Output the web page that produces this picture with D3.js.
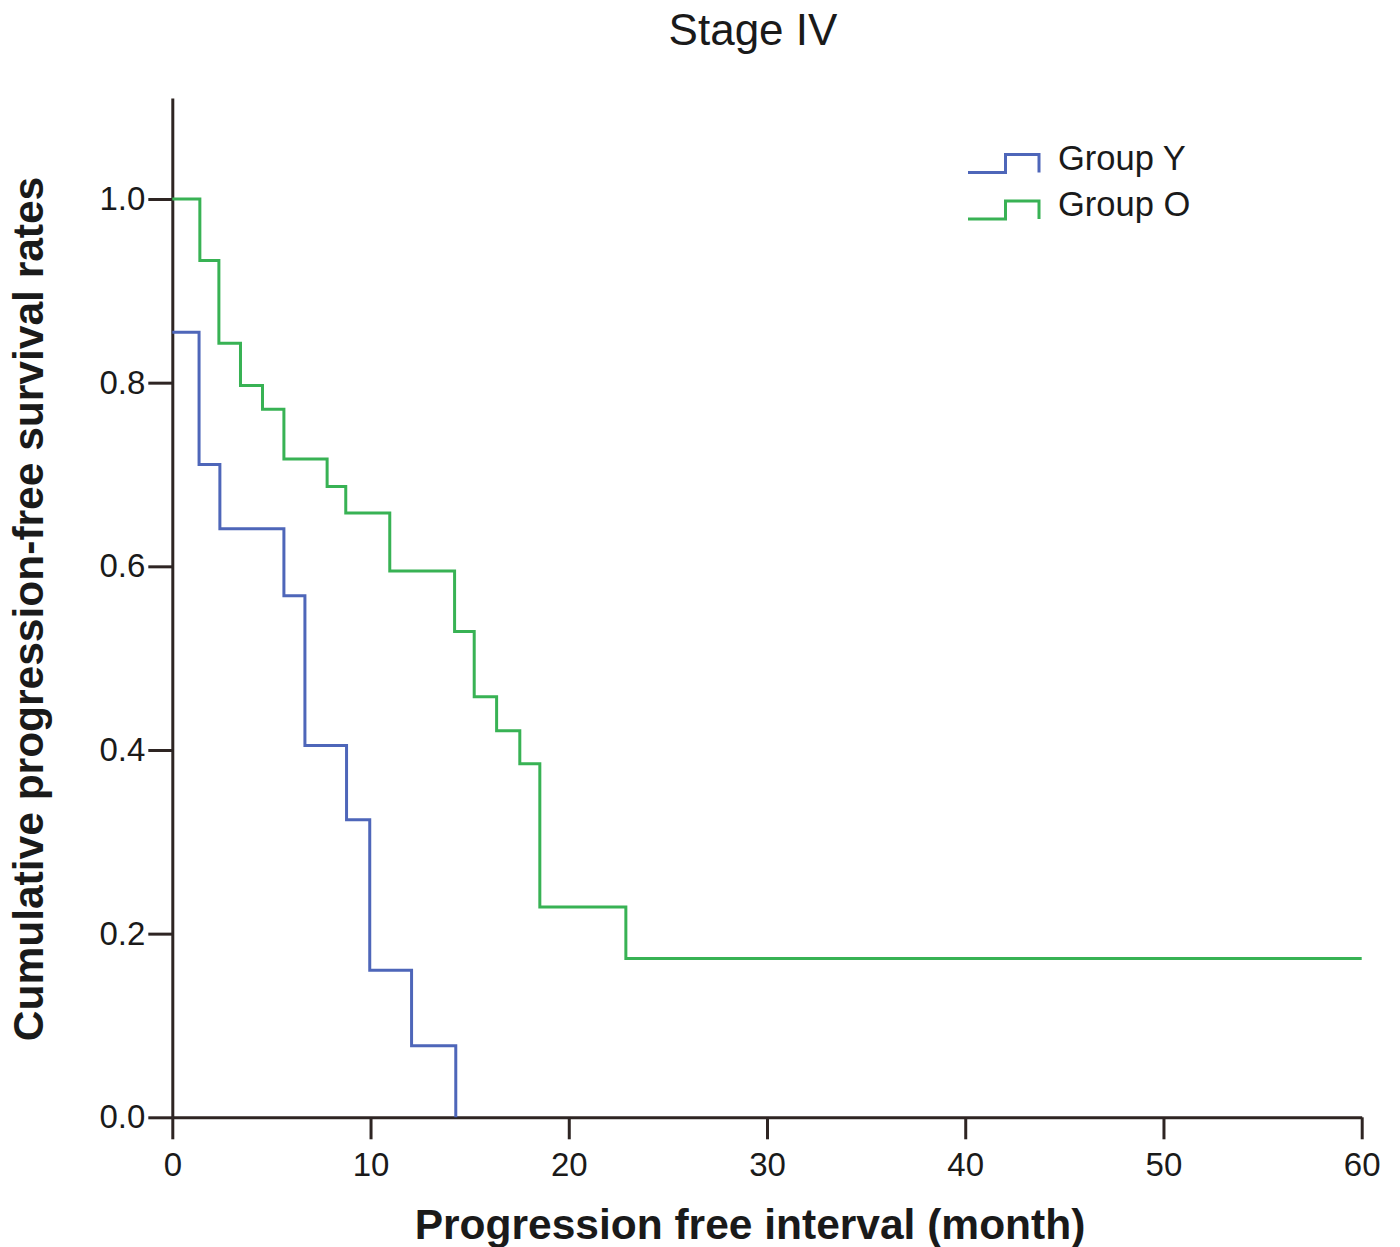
<!DOCTYPE html>
<html>
<head>
<meta charset="utf-8">
<script src="https://cdn.jsdelivr.net/npm/d3@7"></script>
<style>
  html, body { margin: 0; padding: 0; background: #fff; }
  svg { display: block; }
  text { font-family: "Liberation Sans", Arial, Helvetica, sans-serif; fill: #1a1a1a; }
</style>
</head>
<body>
<svg id="chart" width="1400" height="1247"></svg>
<script>
// ---- data ----
const title = "Stage IV";
const xLabel = "Progression free interval (month)";
const yLabel = "Cumulative progression-free survival rates";
const seriesNames = ["Group Y", "Group O"];

const timesY = [0, 1.35, 2.40, 5.63, 6.69, 8.79, 9.96, 12.07, 14.30];
const survY  = [0.855, 0.711, 0.641, 0.568, 0.405, 0.324, 0.160, 0.078, 0.0];

const timesO = [0, 1.39, 2.35, 3.44, 4.55, 5.63, 7.81, 8.75, 10.97, 14.24, 15.23, 16.36, 17.53, 18.54, 22.88, 60];
const survO  = [1.0, 0.933, 0.843, 0.797, 0.771, 0.717, 0.687, 0.658, 0.595, 0.529, 0.458, 0.421, 0.385, 0.229, 0.173, 0.173];

const xTicks = [0, 10, 20, 30, 40, 50, 60];
const yTicks = [0.0, 0.2, 0.4, 0.6, 0.8, 1.0];

// ---- layout ----
const colorY = "#4e66b9";
const colorO = "#38b254";
const axisColor = "#2e2523";

const svg = d3.select("#chart");
const x = d3.scaleLinear().domain([0, 60]).range([172.3, 1361.7]);
const y = d3.scaleLinear().domain([0, 1.11]).range([1117.3, 98]);

// axes
const xAxis = d3.axisBottom(x).tickValues(xTicks).tickFormat(d3.format("d"))
  .tickSizeInner(22).tickSizeOuter(0).tickPadding(13);
const yAxis = d3.axisLeft(y).tickValues(yTicks).tickFormat(d3.format(".1f"))
  .tickSizeInner(24).tickSizeOuter(0).tickPadding(3);

const gx = svg.append("g").attr("transform", `translate(0,${y(0)})`).call(xAxis);
const gy = svg.append("g").attr("transform", `translate(${x(0)},0)`).call(yAxis);
[gx, gy].forEach(g => {
  g.select(".domain").attr("stroke", axisColor).attr("stroke-width", 3);
  g.selectAll(".tick line").attr("stroke", axisColor).attr("stroke-width", 3);
  g.selectAll(".tick text")
    .style("font-family", '"Liberation Sans", Arial, sans-serif')
    .style("font-size", "33px").attr("fill", "#222");
});

// curves
const line = d3.line().x(d => x(d[0])).y(d => y(d[1])).curve(d3.curveStepAfter);
const dataY = timesY.map((t, i) => [t, survY[i]]);
const dataO = timesO.map((t, i) => [t, survO[i]]);

svg.append("path").datum(dataO).attr("d", line)
  .attr("fill", "none").attr("stroke", colorO).attr("stroke-width", 3);
svg.append("path").datum(dataY).attr("d", line)
  .attr("fill", "none").attr("stroke", colorY).attr("stroke-width", 3);

// legend
const legend = svg.append("g");
const legendColors = [colorY, colorO];
const legendRows = [172.5, 219];
seriesNames.forEach((name, i) => {
  const by = legendRows[i];
  const p = `M968,${by} H1005.5 V${by - 18} H1039 V${by}`;
  legend.append("path").attr("d", p).attr("fill", "none")
    .attr("stroke", legendColors[i]).attr("stroke-width", 3);
  legend.append("text").attr("x", 1058).attr("y", by - 3)
    .style("font-size", "34.5px").text(name);
});

// title & axis labels
svg.append("text").attr("x", 753).attr("y", 45).attr("text-anchor", "middle")
  .style("font-size", "44px").text(title);

svg.append("text").attr("x", 750).attr("y", 1239).attr("text-anchor", "middle")
  .style("font-size", "42.5px").style("font-weight", "bold").text(xLabel);

svg.append("text")
  .attr("transform", `translate(43,${609}) rotate(-90)`)
  .attr("text-anchor", "middle")
  .style("font-size", "42.5px").style("font-weight", "bold").text(yLabel);
</script>
</body>
</html>
